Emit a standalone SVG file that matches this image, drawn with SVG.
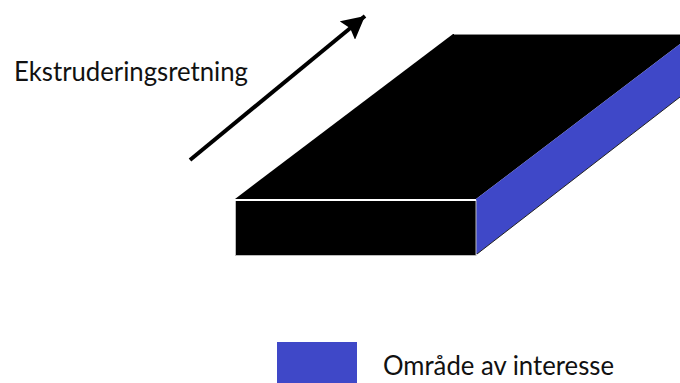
<svg xmlns="http://www.w3.org/2000/svg" width="680" height="383" viewBox="0 0 680 383">
<style>
.t{font-family:"Lato","Open Sans",sans-serif;font-size:26px;fill:#111}
.b{fill:#3f48c8}
</style>
<defs>
<marker id="ah" markerUnits="userSpaceOnUse" markerWidth="24" markerHeight="24" refX="19" refY="10" orient="auto" viewBox="0 0 20 20"><path d="M0 0L19 10L0 20L3 10Z" fill="#000"/></marker>
</defs>
<rect width="680" height="383" fill="#fff"/>
<g id="block">
<path d="M235 199L453 34H680V44L476 199Z" fill="#000"/>
<path class="b" d="M476 199L680 44V97L477 254H476Z"/>
<path d="M477 254L680 97" stroke="#222" stroke-width="1" fill="none"/>
<rect x="235.5" y="200.500" width="240.500" height="55" fill="#000" stroke="#bbb" stroke-width="1"/>
<path d="M235 200.500H476" stroke="#fff" stroke-width="1.2"/>
<path d="M454 34.500H680" stroke="#888" stroke-width="1"/>
</g>
<g id="connectors">
<path d="M190 160L365 16" stroke="#000" stroke-width="4" fill="none" marker-end="url(#ah)"/>
</g>
<g id="label-direction"><text class="t" x="14" y="81" textLength="234" lengthAdjust="spacingAndGlyphs">Ekstruderingsretning</text></g>
<g id="legend">
<rect class="b" x="277" y="342" width="80" height="41"/>
<text class="t" x="383" y="375" textLength="231" lengthAdjust="spacingAndGlyphs">Område av interesse</text>
</g>
</svg>
